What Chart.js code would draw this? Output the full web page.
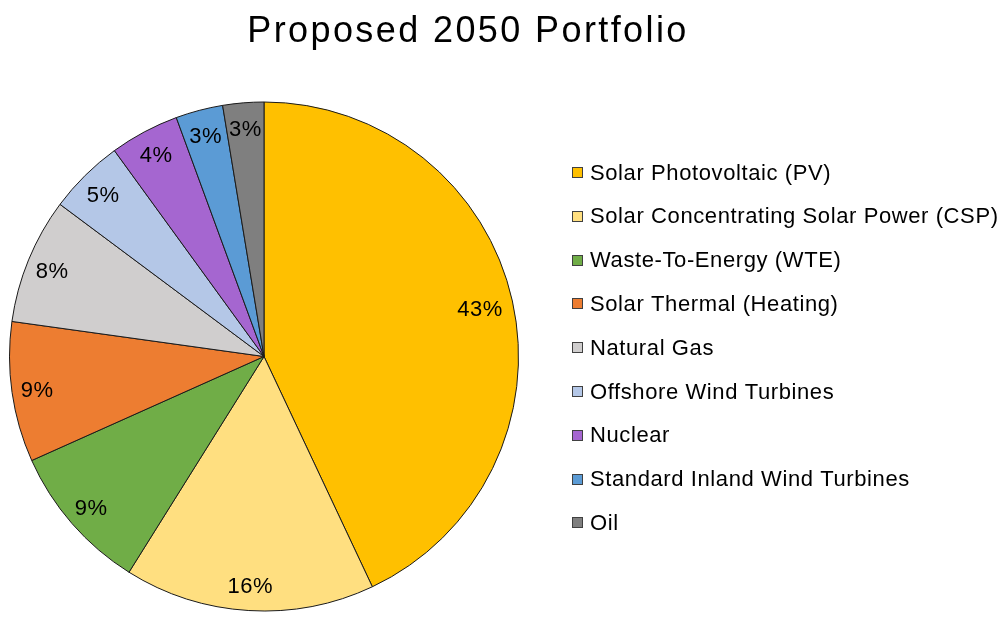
<!DOCTYPE html>
<html>
<head>
<meta charset="utf-8">
<script src="https://cdn.jsdelivr.net/npm/chart.js@4/dist/chart.umd.min.js"></script>
<style>
html,body{margin:0;padding:0;background:#fff;}
#wrap{width:1006px;height:617px;position:relative;}
</style>
</head>
<body>
<div id="wrap"><canvas id="c" width="1006" height="617"></canvas></div>
<script>
const chartTitle = "Proposed 2050 Portfolio";
const categories = [
  "Solar Photovoltaic (PV)",
  "Solar Concentrating Solar Power (CSP)",
  "Waste-To-Energy (WTE)",
  "Solar Thermal (Heating)",
  "Natural Gas",
  "Offshore Wind Turbines",
  "Nuclear",
  "Standard Inland Wind Turbines",
  "Oil"
];
const shares = [43.0, 15.9, 9.4, 8.9, 8.0, 4.8, 4.4, 3.0, 2.6];
const shareLabels = ["43%", "16%", "9%", "9%", "8%", "5%", "4%", "3%", "3%"];
const sliceColors = ["#FFC000","#FFDF80","#70AD47","#ED7D31","#D0CECE","#B4C7E7","#A566D0","#5B9BD5","#7F7F7F"];

const FONT = "'Liberation Sans', Arial, sans-serif";

const overlay = {
  id: 'overlay',
  afterDraw(chart) {
    const ctx = chart.ctx;
    ctx.save();
    // title
    ctx.fillStyle = '#000';
    ctx.font = '36px ' + FONT;
    ctx.letterSpacing = '2.4px';
    ctx.textAlign = 'center';
    ctx.textBaseline = 'alphabetic';
    ctx.fillText(chartTitle, 468, 42);
    // slice labels
    const meta = chart.getDatasetMeta(0);
    ctx.font = '22px ' + FONT;
    ctx.letterSpacing = '0.5px';
    ctx.textBaseline = 'middle';
    meta.data.forEach((arc, i) => {
      const p = arc.getProps(['x','y','startAngle','endAngle','outerRadius'], true);
      const mid = (p.startAngle + p.endAngle) / 2;
      const d = p.outerRadius * (i === 0 ? 0.87 : 0.9);
      ctx.fillText(shareLabels[i], p.x + Math.cos(mid) * d, p.y + Math.sin(mid) * d + 2);
    });
    // legend
    ctx.textAlign = 'left';
    ctx.letterSpacing = '0.6px';
    const x0 = 572, y0 = 172.5, step = 43.8;
    categories.forEach((name, i) => {
      const y = y0 + i * step;
      ctx.fillStyle = sliceColors[i];
      ctx.fillRect(x0, Math.round(y - 5.5), 11, 11);
      ctx.strokeStyle = '#404040';
      ctx.lineWidth = 1;
      ctx.strokeRect(x0 + 0.5, Math.round(y - 5.5) + 0.5, 10, 10);
      ctx.fillStyle = '#000';
      ctx.fillText(name, 590, y + 1);
    });
    ctx.restore();
  }
};

new Chart(document.getElementById('c'), {
  type: 'pie',
  data: {
    labels: categories,
    datasets: [{
      data: shares,
      backgroundColor: sliceColors,
      borderColor: '#1a1a1a',
      borderWidth: 1
    }]
  },
  options: {
    responsive: false,
    animation: false,
    devicePixelRatio: 1,
    layout: { padding: { left: 9, top: 101, right: 487, bottom: 5 } },
    plugins: {
      legend: { display: false },
      title: { display: false },
      tooltip: { enabled: false }
    }
  },
  plugins: [overlay]
});
</script>
</body>
</html>
